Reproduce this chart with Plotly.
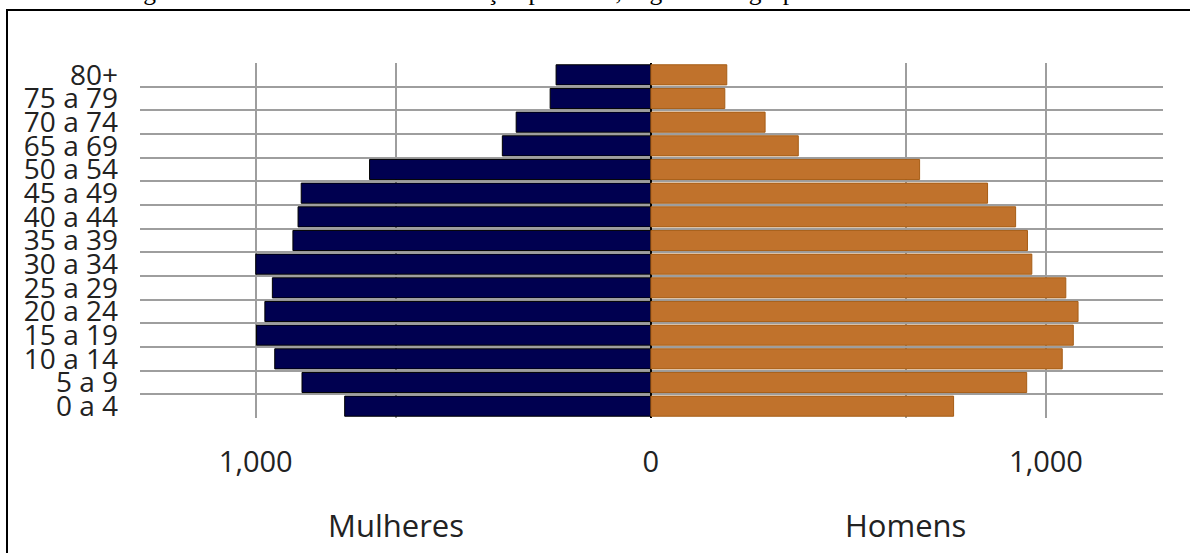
import plotly.graph_objects as go

# Age groups (bottom to top)
age_groups = ["0 a 4", "5 a 9", "10 a 14", "15 a 19", "20 a 24", "25 a 29",
              "30 a 34", "35 a 39", "40 a 44", "45 a 49", "50 a 54",
              "65 a 69", "70 a 74", "75 a 79", "80+"]

# Population values
mulheres = [775, 883, 952, 998, 977, 958, 1000, 906, 893, 885, 712,
            376, 341, 255, 240]
homens = [766, 951, 1041, 1069, 1081, 1050, 964, 953, 923, 852, 680,
          373, 289, 187, 192]

x_tickvals = [-1000, -645, 0, 645, 1000]
x_ticktext = ["1,000", "", "0", "", "1,000"]

caption = "Figura 3: Pirâmide etária – distribuição por sexo, segundo os grupos de idade – 2014"

fig = go.Figure()
fig.add_trace(go.Bar(
    y=age_groups, x=[-v for v in mulheres], orientation="h", name="Mulheres",
    marker=dict(color="#000050", line=dict(color="#000000", width=1)),
))
fig.add_trace(go.Bar(
    y=age_groups, x=homens, orientation="h", name="Homens",
    marker=dict(color="#c0722c", line=dict(color="#a65d16", width=1)),
))

W, H = 1190, 553
ml, mr, mt, mb = 140, 27, 63, 135
ph = H - mt - mb
pw = W - ml - mr

def py(ypix):
    return 1 + (mt - ypix) / ph

def px(xpix):
    return (xpix - ml) / pw

fig.update_layout(
    width=W, height=H,
    margin=dict(l=ml, r=mr, t=mt, b=mb, autoexpand=False),
    paper_bgcolor="white", plot_bgcolor="white",
    barmode="overlay", bargap=0.15, showlegend=False,
    font=dict(family="Open Sans", color="#222222"),
    xaxis=dict(
        range=[-1293, 1296], tickvals=x_tickvals, ticktext=x_ticktext,
        showgrid=True, gridcolor="#9e9e9e", gridwidth=1.5,
        zeroline=True, zerolinecolor="#000000", zerolinewidth=2,
        ticks="", ticklabelstandoff=24,
        tickfont=dict(family="Open Sans", size=29, color="#222222"),
        showline=False, fixedrange=True, automargin=False,
    ),
    yaxis=dict(
        type="category", categoryorder="array", categoryarray=age_groups,
        tickmode="linear", tick0=0, dtick=1,
        tickson="boundaries", showgrid=True, gridcolor="#9e9e9e", gridwidth=1.5,
        ticks="", ticklabelstandoff=21,
        tickfont=dict(family="Open Sans", size=28, color="#222222"),
        showline=False, fixedrange=True, automargin=False,
    ),
    annotations=[
        dict(text="Mulheres", x=-645, xref="x", y=py(525), yref="paper",
             showarrow=False, xanchor="center", yanchor="middle",
             font=dict(family="Open Sans", size=31, color="#222222")),
        dict(text="Homens", x=645, xref="x", y=py(525), yref="paper",
             showarrow=False, xanchor="center", yanchor="middle",
             font=dict(family="Open Sans", size=31, color="#222222")),
        dict(text=caption, x=px(120), xref="paper", y=py(8), yref="paper",
             showarrow=False, xanchor="left", yanchor="bottom",
             font=dict(family="Liberation Serif", size=25.5, color="#000000")),
    ],
    shapes=[
        dict(type="rect", xref="paper", yref="paper",
             x0=px(7), x1=px(1200), y0=py(565), y1=py(10),
             line=dict(color="#000000", width=2), fillcolor="rgba(0,0,0,0)",
             layer="below"),
    ],
)

fig.write_html("out.html", config={"displayModeBar": False},
               post_script="document.body.style.margin='0';")
